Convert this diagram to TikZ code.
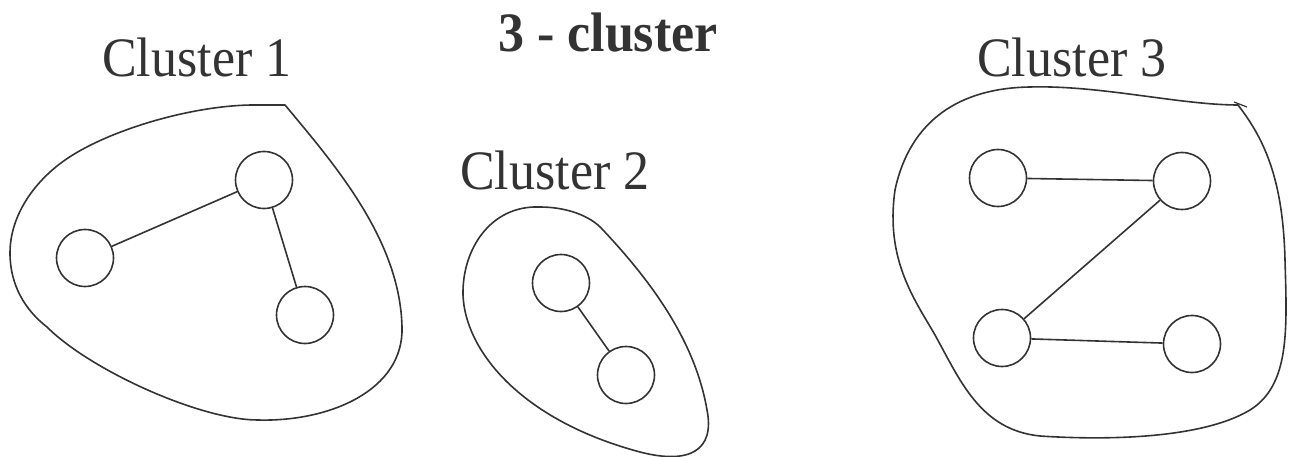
\documentclass[tikz,border=0pt]{standalone}
\usepackage{fontspec}
\setmainfont{Liberation Serif}
\begin{document}
\begin{tikzpicture}[x=1pt,y=-1pt,
  ink/.style={draw=black!80,line width=1.6pt},
  vertex/.style={ink,circle,minimum size=57pt,inner sep=0pt},
  link/.style={ink},
  blob/.style={ink,line join=round},
  label/.style={anchor=base west,inner sep=0pt,text=black!80,yscale=1.07,
    font=\fontsize{52}{60}\selectfont}]
\useasboundingbox (0,0) rectangle (1290,457);

% titles
\node[label,font=\fontsize{52}{60}\selectfont\bfseries] (title) at (498,52) {3 - cluster};
\node[label] (l1) at (102,77) {Cluster 1};
\node[label] (l2) at (460,190) {Cluster 2};
\node[label] (l3) at (977,77) {Cluster 3};

% cluster 1 outline
\draw[blob] (285,105) .. controls (335,165) and (400,240) .. (402,327)
  .. controls (404,390) and (330,422) .. (258,420)
  .. controls (200,420) and (90,370) .. (47,327)
  .. controls (25,310) and (10,285) .. (10,253)
  .. controls (10,215) and (35,180) .. (68,158)
  .. controls (110,130) and (190,106) .. (251,105)
  -- cycle;
\node[vertex] (a1) at (264,180) {};
\node[vertex] (b1) at (85,258) {};
\node[vertex] (c1) at (305,315) {};
\draw[link] (b1) -- (a1);
\draw[link] (a1) -- (c1);

% cluster 2 outline
\draw[blob] (540,207) .. controls (490,205) and (462,250) .. (463,295)
  .. controls (465,350) and (520,420) .. (640,452)
  .. controls (690,465) and (715,450) .. (707,410)
  .. controls (695,340) and (650,280) .. (603,230)
  .. controls (590,215) and (565,207) .. (540,207) -- cycle;
\node[vertex] (a2) at (561,283) {};
\node[vertex] (b2) at (626,375) {};
\draw[link] (a2) -- (b2);

% cluster 3 outline
\draw[blob] (1238,105) .. controls (1180,105) and (1100,85) .. (1030,87)
  .. controls (960,88) and (910,120) .. (895,190)
  .. controls (885,260) and (915,300) .. (935,335)
  .. controls (960,380) and (980,430) .. (1040,436)
  .. controls (1100,440) and (1200,440) .. (1250,410)
  .. controls (1290,385) and (1287,330) .. (1285,260)
  .. controls (1283,180) and (1265,140) .. (1238,105) -- cycle;
\coordinate (t1) at (1234,102);
\coordinate (t2) at (1247,107);
\draw[ink,line width=1.2pt] (t1) -- (t2);
\node[vertex] (a3) at (998,178) {};
\node[vertex] (b3) at (1182,181) {};
\node[vertex] (c3) at (1002,338) {};
\node[vertex] (d3) at (1192,344) {};
\draw[link] (a3) -- (b3);
\draw[link] (b3) -- (c3);
\draw[link] (c3) -- (d3);
\end{tikzpicture}
\end{document}
